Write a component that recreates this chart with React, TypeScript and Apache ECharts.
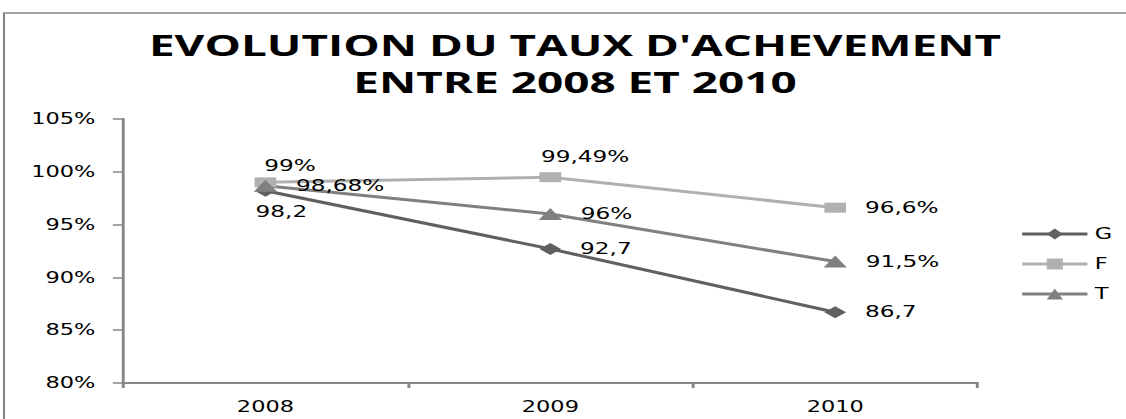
import React, { useEffect, useRef } from "react";
import * as echarts from "echarts";

const categories = ["2008", "2009", "2010"];
const gValues = [98.2, 92.7, 86.7];
const fValues = [99, 99.49, 96.6];
const tValues = [98.68, 96, 91.5];
const gLabels = ["98,2", "92,7", "86,7"];
const fLabels = ["99%", "99,49%", "96,6%"];
const tLabels = ["98,68%", "96%", "91,5%"];
const yMin = 80;
const yMax = 105;
const yInterval = 5;
const titleText = "EVOLUTION DU TAUX D'ACHEVEMENT\nENTRE 2008 ET 2010";

const S = 1.45; // horizontal stretch of the reference picture
const W = 1126 / S;
const H = 419;
const FONT = "'DejaVu Sans', Verdana, sans-serif";
const AXIS = "#868686";

const rightLabel = { position: "right", distance: 13 };
const gLabelCfg = [
  { position: "bottom", distance: 7, offset: [11, 0] },
  rightLabel,
  rightLabel,
];
const fLabelCfg = [
  { position: "top", distance: 4, offset: [17, 0] },
  { position: "top", distance: 7, offset: [24, 0] },
  rightLabel,
];
const tLabelCfg = [rightLabel, rightLabel, rightLabel];

function buildSeries(
  name: string,
  values: number[],
  labels: string[],
  cfg: any[],
  color: string,
  symbol: string,
  symbolSize: number[]
) {
  return {
    name,
    type: "line",
    symbol,
    symbolSize,
    lineStyle: { color, width: 3 },
    itemStyle: { color },
    data: values.map((v, i) => ({
      value: v,
      label: {
        show: true,
        formatter: labels[i],
        color: "#000",
        fontFamily: FONT,
        fontSize: 16,
        ...cfg[i],
      },
    })),
  };
}

export default function App() {
  const ref = useRef<HTMLDivElement>(null);
  useEffect(() => {
    if (!ref.current) return;
    const chart = echarts.init(ref.current, undefined, { renderer: "svg" });
    chart.setOption({
      animation: false,
      backgroundColor: "#fff",
      textStyle: { fontFamily: FONT },
      graphic: [
        {
          type: "rect",
          shape: { x: 4 / S, y: 13, width: 1200 / S, height: 500 },
          style: { fill: "none", stroke: AXIS, lineWidth: 1.5 },
          silent: true,
        },
        {
          type: "text",
          x: 575 / S,
          y: 26,
          scaleX: 1.13,
          style: {
            text: titleText,
            align: "center",
            verticalAlign: "top",
            fontFamily: "'Open Sans', sans-serif",
            fontWeight: "bold",
            fontSize: 28,
            lineHeight: 37,
            fill: "#000",
          },
          silent: true,
        },
      ],
      legend: {
        orient: "vertical",
        left: 1020 / S,
        top: 226,
        padding: 0,
        itemWidth: 45,
        itemHeight: 14,
        itemGap: 14,
        lineStyle: { width: 3 },
        textStyle: { fontFamily: FONT, fontSize: 15.5, color: "#000" },
        data: ["G", "F", "T"],
      },
      grid: {
        left: 123 / S,
        right: W - 977 / S,
        top: 119,
        bottom: H - 383,
        containLabel: false,
      },
      xAxis: {
        type: "category",
        data: categories,
        boundaryGap: true,
        axisLine: { lineStyle: { color: AXIS, width: 2 } },
        axisTick: { show: true, length: 5, lineStyle: { color: AXIS, width: 2 } },
        axisLabel: { color: "#000", fontSize: 15.5, fontFamily: FONT, margin: 16 },
        splitLine: { show: false },
      },
      yAxis: {
        type: "value",
        min: yMin,
        max: yMax,
        interval: yInterval,
        axisLine: { show: true, lineStyle: { color: AXIS, width: 2 } },
        axisTick: { show: true, length: 7, lineStyle: { color: AXIS, width: 1.5 } },
        axisLabel: {
          color: "#000",
          fontSize: 15.5,
          fontFamily: FONT,
          margin: 19,
          formatter: (v: number) => `${v}%`,
        },
        splitLine: { show: false },
      },
      series: [
        buildSeries("G", gValues, gLabels, gLabelCfg, "#606060", "diamond", [15, 12]),
        buildSeries("F", fValues, fLabels, fLabelCfg, "#b0b0b0", "rect", [15, 10]),
        buildSeries("T", tValues, tLabels, tLabelCfg, "#808080", "triangle", [16, 12]),
      ],
    });
    return () => chart.dispose();
  }, []);

  return (
    <div
      style={{
        position: "fixed",
        left: 0,
        top: 0,
        width: W,
        height: H,
        transform: `scaleX(${S})`,
        transformOrigin: "0 0",
        background: "#fff",
      }}
    >
      <div ref={ref} style={{ width: W, height: H }} />
    </div>
  );
}
